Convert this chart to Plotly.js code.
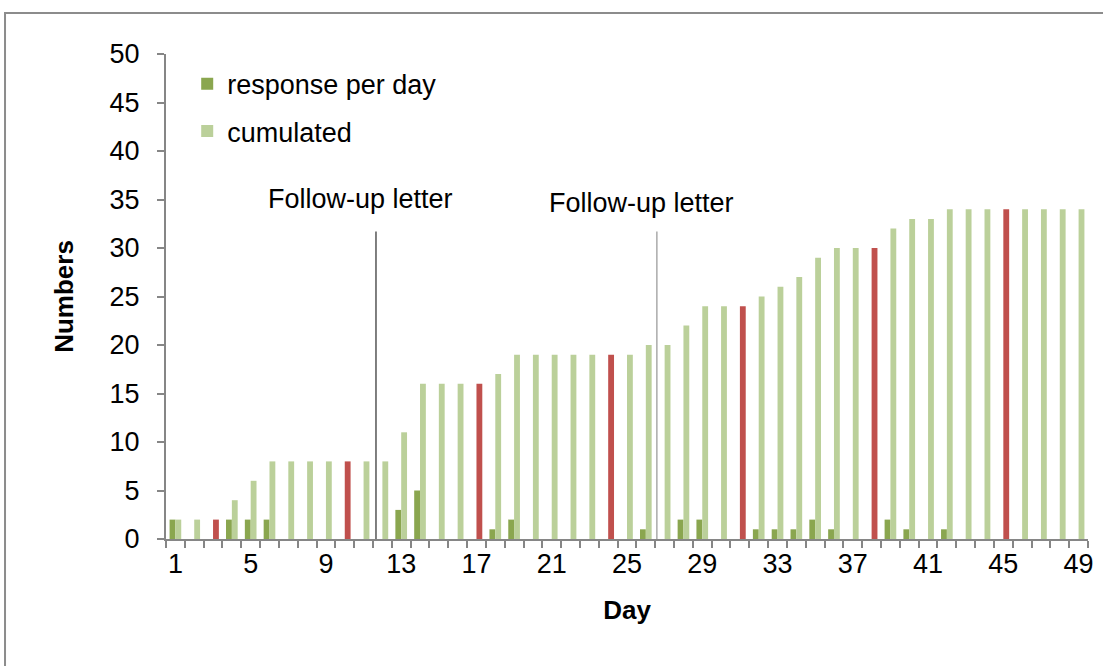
<!DOCTYPE html>
<html>
<head>
<meta charset="utf-8">
<script src="https://cdn.plot.ly/plotly-3.0.1.min.js"></script>
<style>html,body{margin:0;padding:0;background:#fff;}#chart{width:1103px;height:666px;}</style>
</head>
<body>
<div id="chart"></div>
<script>
// Data
const days = [1,2,3,4,5,6,7,8,9,10,11,12,13,14,15,16,17,18,19,20,21,22,23,24,25,26,27,28,29,30,31,32,33,34,35,36,37,38,39,40,41,42,43,44,45,46,47,48,49];
const responsePerDay = [2,0,0,2,2,2,0,0,0,0,0,0,3,5,0,0,0,1,2,0,0,0,0,0,0,1,0,2,2,0,0,1,1,1,2,1,0,0,2,1,0,1,0,0,0,0,0,0,0];
const cumulated = [2,2,2,4,6,8,8,8,8,8,8,8,11,16,16,16,16,17,19,19,19,19,19,19,19,20,20,22,24,24,24,25,26,27,29,30,30,30,32,33,33,34,34,34,34,34,34,34,34];
const highlightedDays = [3,10,17,24,31,38,45];
const xTickLabels = [1,5,9,13,17,21,25,29,33,37,41,45,49];
const yTickLabels = [0,5,10,15,20,25,30,35,40,45,50];
const followUpDays = [11.66, 26.59];
const followUpLabels = ['Follow-up letter', 'Follow-up letter'];

const DARK = '#8AA64F';
const LIGHT = '#BBD09A';
const RED = '#C0504D';
const FONT = 'Liberation Sans, Arial, sans-serif';
const FS = 27;

const cumColors = days.map(d => highlightedDays.includes(d) ? RED : LIGHT);

const traces = [
  {type:'bar', name:'response per day', x:days, y:responsePerDay,
   marker:{color:DARK}, legendgroup:'a', hoverinfo:'x+y'},
  {type:'bar', name:'cumulated', x:days, y:cumulated,
   marker:{color:cumColors}, legendgroup:'b', hoverinfo:'x+y'}
];

const shapes = [
  {type:'line', xref:'x', yref:'y', x0:followUpDays[0], x1:followUpDays[0], y0:0, y1:31.7, line:{color:'#000000', width:1}},
  {type:'line', xref:'x', yref:'y', x0:followUpDays[1], x1:followUpDays[1], y0:0, y1:31.7, line:{color:'#7f7f7f', width:1}},
  {type:'rect', xref:'paper', yref:'paper', x0:-0.1746, x1:1.2, y0:-0.6, y1:1.0845, line:{color:'#8c8c8c', width:2}, fillcolor:'rgba(0,0,0,0)'}
];

const annotations = [
  {xref:'x', yref:'y', x:10.83, y:35.05, text:followUpLabels[0], showarrow:false, font:{family:FONT, size:FS, color:'#000'}},
  {xref:'x', yref:'y', x:25.78, y:34.64, text:followUpLabels[1], showarrow:false, font:{family:FONT, size:FS, color:'#000'}}
];

const layout = {
  width:1103, height:666,
  margin:{l:166, r:15, t:54, b:127},
  paper_bgcolor:'#fff', plot_bgcolor:'#fff',
  font:{family:FONT, size:FS, color:'#000'},
  barmode:'group', bargap:0.38, bargroupgap:0,
  showlegend:true,
  legend:{x:0.023, y:0.988, xanchor:'left', yanchor:'top', bgcolor:'rgba(0,0,0,0)',
          font:{family:FONT, size:FS, color:'#000'}, tracegroupgap:9, traceorder:'grouped'},
  xaxis:{range:[0.5,49.5], tickmode:'array', tickvals:xTickLabels, ticktext:xTickLabels.map(String),
         ticks:'', showline:true, linecolor:'#868686', linewidth:2, showgrid:false, zeroline:false,
         minor:{tickmode:'linear', tick0:0.5, dtick:1, ticks:'outside', ticklen:7, tickwidth:2, tickcolor:'#868686', showgrid:false},
         tickfont:{family:FONT, size:FS, color:'#000'},
         title:{text:'<b>Day</b>', font:{family:FONT, size:26, color:'#000'}, standoff:22}},
  yaxis:{range:[0,50], tickmode:'array', tickvals:yTickLabels, ticks:'outside', ticklen:7, tickwidth:2, tickcolor:'#868686',
         showline:true, linecolor:'#868686', linewidth:2, showgrid:false, zeroline:false,
         tickfont:{family:FONT, size:FS, color:'#000'}, ticklabelstandoff:12,
         title:{text:'<b>Numbers</b>', font:{family:FONT, size:26, color:'#000'}, standoff:28}},
  shapes:shapes,
  annotations:annotations
};

Plotly.newPlot('chart', traces, layout, {displayModeBar:false, staticPlot:true});
</script>
</body>
</html>
